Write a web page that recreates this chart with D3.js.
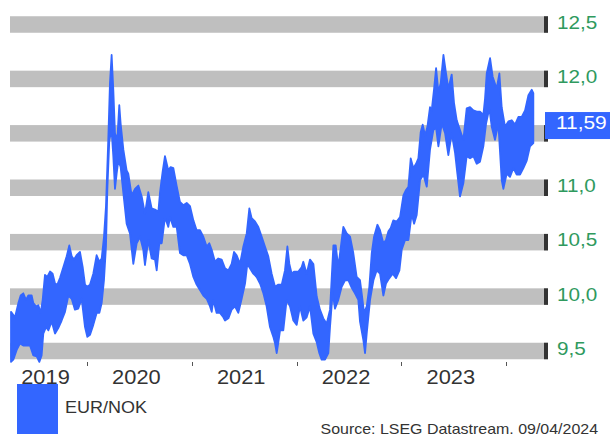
<!DOCTYPE html>
<html><head><meta charset="utf-8">
<script src="https://cdn.jsdelivr.net/npm/d3@7"></script>
<style>html,body{margin:0;padding:0;background:#fff;}svg{display:block;}</style>
</head><body>
<script>
// ---- data (decimal year, EUR/NOK) ----
const seriesName = "EUR/NOK";
const sourceText = "Source: LSEG Datastream. 09/04/2024";
const lastValue = 11.59;
const lastLabel = "11,59";
const yTicks = [9.5, 10.0, 10.5, 11.0, 11.5, 12.0, 12.5];
const yTickLabels = ["9,5", "10,0", "10,5", "11,0", "11,5", "12,0", "12,5"];
const yearTicks = [2020, 2021, 2022, 2023, 2024];
const yearLabels = [2019, 2020, 2021, 2022, 2023];
// upper envelope of the daily series
const rangeHigh = [[2019.275,9.86],[2019.313,9.81],[2019.345,9.94],[2019.367,10.01],[2019.392,10.03],[2019.418,9.97],[2019.440,10.01],[2019.472,10.01],[2019.488,9.94],[2019.513,9.91],[2019.536,9.92],[2019.558,9.85],[2019.577,9.97],[2019.599,10.20],[2019.621,10.18],[2019.647,10.23],[2019.672,10.21],[2019.695,10.12],[2019.717,10.11],[2019.742,10.17],[2019.774,10.27],[2019.806,10.37],[2019.831,10.47],[2019.854,10.37],[2019.876,10.34],[2019.901,10.38],[2019.933,10.41],[2019.959,10.27],[2019.981,10.11],[2020.003,10.09],[2020.029,10.11],[2020.060,10.21],[2020.092,10.38],[2020.118,10.32],[2020.140,10.35],[2020.162,10.55],[2020.181,10.83],[2020.203,11.44],[2020.219,11.96],[2020.235,12.22],[2020.251,11.90],[2020.267,11.50],[2020.289,11.44],[2020.308,11.76],[2020.321,11.59],[2020.347,11.35],[2020.378,11.16],[2020.394,11.13],[2020.426,10.93],[2020.458,10.99],[2020.490,11.02],[2020.522,10.92],[2020.553,10.76],[2020.585,10.96],[2020.617,10.81],[2020.649,10.80],[2020.681,10.78],[2020.697,10.96],[2020.722,11.15],[2020.744,11.29],[2020.776,11.16],[2020.798,11.19],[2020.824,11.18],[2020.855,11.02],[2020.887,10.87],[2020.919,10.84],[2020.951,10.86],[2020.983,10.83],[2021.015,10.70],[2021.046,10.61],[2021.078,10.61],[2021.110,10.55],[2021.142,10.46],[2021.167,10.49],[2021.190,10.43],[2021.221,10.32],[2021.253,10.35],[2021.285,10.34],[2021.317,10.26],[2021.349,10.24],[2021.380,10.30],[2021.403,10.41],[2021.428,10.38],[2021.460,10.30],[2021.492,10.46],[2021.524,10.58],[2021.549,10.81],[2021.571,10.72],[2021.603,10.69],[2021.635,10.64],[2021.667,10.55],[2021.698,10.46],[2021.730,10.37],[2021.762,10.21],[2021.794,10.09],[2021.826,10.11],[2021.858,10.11],[2021.889,10.24],[2021.912,10.46],[2021.931,10.30],[2021.953,10.21],[2021.975,10.23],[2022.017,10.23],[2022.048,10.27],[2022.064,10.32],[2022.096,10.21],[2022.128,10.34],[2022.160,10.30],[2022.192,10.00],[2022.223,9.88],[2022.255,9.80],[2022.287,9.75],[2022.319,9.88],[2022.351,10.47],[2022.373,10.47],[2022.398,10.27],[2022.430,10.52],[2022.446,10.64],[2022.478,10.58],[2022.510,10.55],[2022.541,10.40],[2022.573,10.18],[2022.605,10.15],[2022.621,10.03],[2022.644,9.85],[2022.669,9.91],[2022.694,10.09],[2022.717,10.40],[2022.739,10.55],[2022.771,10.66],[2022.796,10.61],[2022.828,10.49],[2022.853,10.52],[2022.876,10.60],[2022.898,10.63],[2022.923,10.70],[2022.955,10.69],[2022.987,10.73],[2023.019,10.93],[2023.044,10.98],[2023.067,11.01],[2023.089,11.27],[2023.114,11.18],[2023.140,11.22],[2023.162,11.27],[2023.184,11.51],[2023.203,11.58],[2023.226,11.48],[2023.248,11.56],[2023.273,11.74],[2023.289,11.71],[2023.312,11.91],[2023.331,12.10],[2023.353,11.88],[2023.375,11.96],[2023.401,12.22],[2023.426,12.05],[2023.448,11.91],[2023.480,12.04],[2023.502,11.78],[2023.528,11.62],[2023.559,11.53],[2023.591,11.44],[2023.623,11.73],[2023.655,11.74],[2023.687,11.71],[2023.719,11.70],[2023.750,11.70],[2023.782,11.67],[2023.798,11.82],[2023.814,12.05],[2023.846,12.19],[2023.871,12.02],[2023.909,11.91],[2023.935,12.05],[2023.957,11.74],[2023.989,11.56],[2024.021,11.61],[2024.053,11.62],[2024.084,11.58],[2024.116,11.65],[2024.148,11.65],[2024.180,11.71],[2024.212,11.85],[2024.244,11.90],[2024.259,11.87]];
// lower envelope of the daily series
const rangeLow = [[2019.275,9.40],[2019.297,9.42],[2019.329,9.51],[2019.361,9.57],[2019.392,9.55],[2019.424,9.55],[2019.456,9.55],[2019.488,9.46],[2019.520,9.45],[2019.545,9.40],[2019.567,9.46],[2019.583,9.66],[2019.609,9.72],[2019.631,9.69],[2019.663,9.77],[2019.695,9.66],[2019.726,9.71],[2019.758,9.78],[2019.790,9.86],[2019.822,10.01],[2019.854,9.98],[2019.885,9.88],[2019.917,9.89],[2019.949,9.98],[2019.981,9.72],[2020.003,9.63],[2020.029,9.65],[2020.060,9.74],[2020.092,9.85],[2020.118,9.85],[2020.140,9.94],[2020.162,10.15],[2020.181,10.46],[2020.194,10.98],[2020.213,11.44],[2020.235,11.53],[2020.251,11.29],[2020.267,10.99],[2020.283,11.13],[2020.299,11.25],[2020.321,11.19],[2020.347,10.95],[2020.378,10.67],[2020.410,10.58],[2020.442,10.30],[2020.474,10.49],[2020.506,10.55],[2020.537,10.43],[2020.553,10.29],[2020.585,10.52],[2020.617,10.35],[2020.649,10.34],[2020.665,10.24],[2020.690,10.49],[2020.713,10.49],[2020.744,10.73],[2020.776,10.64],[2020.792,10.73],[2020.824,10.64],[2020.856,10.64],[2020.887,10.40],[2020.919,10.38],[2020.951,10.38],[2020.983,10.30],[2021.015,10.18],[2021.046,10.11],[2021.078,10.06],[2021.110,10.01],[2021.142,9.98],[2021.174,9.91],[2021.190,9.86],[2021.205,9.97],[2021.237,9.85],[2021.269,9.85],[2021.301,9.81],[2021.317,9.78],[2021.349,9.80],[2021.380,9.88],[2021.412,9.91],[2021.444,9.85],[2021.476,9.98],[2021.508,10.12],[2021.530,10.30],[2021.555,10.26],[2021.587,10.21],[2021.619,10.18],[2021.651,10.12],[2021.683,10.03],[2021.714,9.91],[2021.746,9.72],[2021.778,9.63],[2021.794,9.57],[2021.810,9.48],[2021.826,9.58],[2021.842,9.69],[2021.873,9.69],[2021.905,9.97],[2021.937,9.91],[2021.969,9.78],[2022.001,9.74],[2022.032,9.91],[2022.064,9.78],[2022.096,9.81],[2022.128,9.91],[2022.160,9.66],[2022.192,9.58],[2022.217,9.48],[2022.239,9.42],[2022.271,9.42],[2022.303,9.48],[2022.319,9.72],[2022.344,10.04],[2022.366,9.89],[2022.398,9.97],[2022.430,10.09],[2022.462,10.15],[2022.494,10.15],[2022.526,10.08],[2022.557,10.03],[2022.589,9.97],[2022.605,9.77],[2022.637,9.60],[2022.653,9.48],[2022.669,9.66],[2022.701,9.97],[2022.733,10.15],[2022.764,10.24],[2022.796,10.21],[2022.828,10.01],[2022.853,10.12],[2022.885,10.17],[2022.917,10.21],[2022.949,10.17],[2022.981,10.24],[2023.003,10.43],[2023.035,10.52],[2023.067,10.52],[2023.098,10.76],[2023.121,10.67],[2023.146,10.75],[2023.178,11.07],[2023.210,11.12],[2023.242,11.01],[2023.273,11.35],[2023.305,11.53],[2023.331,11.55],[2023.353,11.38],[2023.385,11.59],[2023.417,11.50],[2023.448,11.30],[2023.480,11.50],[2023.512,11.32],[2023.534,11.13],[2023.559,10.92],[2023.591,11.04],[2023.623,11.29],[2023.655,11.27],[2023.687,11.29],[2023.719,11.22],[2023.750,11.24],[2023.782,11.38],[2023.808,11.59],[2023.839,11.73],[2023.862,11.56],[2023.893,11.44],[2023.925,11.59],[2023.957,11.07],[2023.973,10.99],[2024.005,11.13],[2024.036,11.10],[2024.068,11.18],[2024.100,11.12],[2024.132,11.12],[2024.164,11.18],[2024.196,11.25],[2024.227,11.38],[2024.259,11.41]];

// ---- drawing ----
const W = 614, H = 435;
const plotLeft = 10, plotRight = 548;
const FONT = "'Liberation Sans', Arial, Helvetica, sans-serif";
const BLUE = "#3366ff", GREEN = "#2f9a5e", TEXT = "#333333";

const svg = d3.select("body").append("svg").attr("width", W).attr("height", H);

const x = d3.scaleLinear().domain([2020, 2024]).range([87, 506.2]);
const y = d3.scaleLinear().domain([9.5, 12.5]).range([351, 24.5]);
const ly = y(lastValue);

// gridline bands
const grid = svg.append("g");
grid.selectAll("rect.band").data(yTicks).join("rect")
  .attr("class", "band")
  .attr("x", plotLeft).attr("width", plotRight - plotLeft)
  .attr("y", d => y(d) - 8.25).attr("height", 16.5)
  .attr("fill", "#bfbfbf");
grid.selectAll("rect.cap").data(yTicks).join("rect")
  .attr("class", "cap")
  .attr("x", plotRight - 4).attr("width", 4)
  .attr("y", d => y(d) - 8.25).attr("height", 16.5)
  .attr("fill", "#333");

// right axis labels (the one hidden under the last-value box is not drawn)
const labelIdx = yTicks.map((d, i) => i).filter(i => Math.abs(y(yTicks[i]) - ly) > 20);
svg.append("g").selectAll("text").data(labelIdx).join("text")
  .attr("transform", i => `translate(557,${y(yTicks[i]) + 4}) scale(1.15,1)`)
  .attr("font-family", FONT).attr("font-size", 18)
  .attr("fill", GREEN)
  .text(i => yTickLabels[i]);

// series band (area between envelopes)
const line = d3.line().x(d => x(d[0])).y(d => y(d[1]));
const poly = rangeHigh.concat(rangeLow.slice().reverse());
svg.append("path")
  .attr("d", line(poly) + "Z")
  .attr("fill", BLUE).attr("stroke", BLUE)
  .attr("stroke-width", 1.8).attr("stroke-linejoin", "round");

// last value box
svg.append("rect").attr("x", 545).attr("y", ly - 11.5)
  .attr("width", 65).attr("height", 27).attr("fill", BLUE);
svg.append("text")
  .attr("transform", `translate(556,${ly + 5}) scale(1.1,1)`)
  .attr("font-family", FONT).attr("font-size", 19)
  .attr("fill", "#fff").text(lastLabel);

// x axis ticks
svg.append("g").selectAll("line").data(yearTicks).join("line")
  .attr("x1", d => Math.round(x(d)) + 0.5).attr("x2", d => Math.round(x(d)) + 0.5)
  .attr("y1", 362).attr("y2", 366)
  .attr("stroke", "#555").attr("stroke-width", 1);

// year labels, centred in the visible part of each year
svg.append("g").selectAll("text").data(yearLabels).join("text")
  .attr("transform", d => {
    const a = Math.max(x(d), plotLeft), b = Math.min(x(d + 1), plotRight);
    return `translate(${(a + b) / 2 - 3},383.5) scale(1.12,1)`;
  })
  .attr("text-anchor", "middle")
  .attr("font-family", FONT).attr("font-size", 19.5)
  .attr("fill", TEXT).text(d => d);

// legend
svg.append("rect").attr("x", 17).attr("y", 384).attr("width", 41).attr("height", 50).attr("fill", BLUE);
svg.append("text")
  .attr("transform", "translate(65,413) scale(1.06,1)")
  .attr("font-family", FONT).attr("font-size", 17)
  .attr("fill", TEXT).text(seriesName);

// source
svg.append("text")
  .attr("transform", "translate(598,433.5) scale(1.14,1)")
  .attr("text-anchor", "end")
  .attr("font-family", FONT).attr("font-size", 14)
  .attr("fill", TEXT).text(sourceText);
</script>
</body></html>
